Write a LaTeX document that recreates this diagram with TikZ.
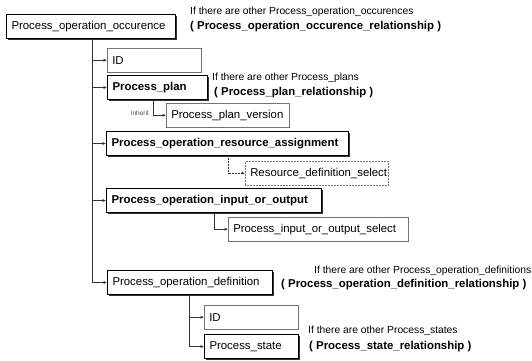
\documentclass[tikz,border=0pt]{standalone}
\usepackage{fontspec}
\setmainfont{Liberation Sans}
\usetikzlibrary{arrows.meta}
\usetikzlibrary{shadows}

\begin{document}
\begin{tikzpicture}[x=1pt, y=-1pt, >={Latex[length=3.5pt,width=3pt]},
  ent/.style={anchor=north west, minimum height=24pt, inner xsep=5pt, inner ysep=0pt, align=left, font=\fontsize{11.4}{13}\selectfont},
  strong/.style={ent, draw, line width=1pt, drop shadow={shadow xshift=1.2pt, shadow yshift=-1.2pt, fill=black!80, opacity=1}, fill=white},
  weak/.style={ent, draw=black!55, line width=0.5pt},
  note/.style={anchor=west, inner sep=0pt, font=\fontsize{10.3}{12}\selectfont},
  bnote/.style={note, font=\fontsize{11.4}{13}\selectfont\bfseries},
  link/.style={->, line width=0.5pt, black!80}]
\useasboundingbox (0,0) rectangle (532,360);
% entities
\node[strong, text width=159pt] (occ) at (6,14) {Process\_operation\_occurence};
\node[weak, text width=84pt] (id1) at (107,48) {ID};
\node[strong, text width=90pt] (plan) at (107,75) {\textbf{Process\_plan}};
\node[weak, text width=113pt] (ver) at (166,103) {Process\_plan\_version};
\node[strong, text width=232pt] (res) at (106,131) {\textbf{Process\_operation\_resource\_assignment}};
\node[weak, densely dotted, text width=133pt] (rsel) at (245,161) {Resource\_definition\_select};
\node[strong, text width=205pt] (io) at (106,188) {\textbf{Process\_operation\_input\_or\_output}};
\node[weak, text width=170pt] (iosel) at (228,217) {Process\_input\_or\_output\_select};
\node[strong, text width=155pt] (def) at (107,270) {Process\_operation\_definition};
\node[weak, text width=84pt] (id2) at (204,305) {ID};
\node[strong, text width=84pt] (state) at (204,334) {Process\_state};
% notes
\node[note] (n1) at (190,12) {If there are other Process\_operation\_occurences};
\node[bnote] (n1b) at (190,27) {( Process\_operation\_occurence\_relationship )};
\node[note] (n2) at (212,78) {If there are other Process\_plans};
\node[bnote] (n2b) at (214,93) {( Process\_plan\_relationship )};
\node[note] (n3) at (314,271) {If there are other Process\_operation\_definitions};
\node[bnote] (n3b) at (281,285) {( Process\_operation\_definition\_relationship )};
\node[note] (n4) at (308,331) {If there are other Process\_states};
\node[bnote] (n4b) at (309,347) {( Process\_state\_relationship )};
\node[anchor=east, inner sep=0pt, font=\fontsize{6.5}{7}\selectfont, black!70] (inh) at (149,113) {Inherit};
% connectors
\coordinate (trunk) at (92,0);
\draw[link] (trunk |- occ.south) |- (def.west);
\foreach \n in {id1, plan, res, io}
  \draw[link] (trunk |- \n.west) -- (\n.west);
\draw[link] ([xshift=46pt]plan.south west) |- (ver.west);
\draw[link, densely dotted] ([xshift=122pt]res.south west) |- (rsel.west);
\draw[link] ([xshift=108pt]io.south west) |- (iosel.west);
\draw[link] ([xshift=82pt]def.south west) |- (id2.west);
\draw[link] ([xshift=82pt]def.south west) |- (state.west);
\end{tikzpicture}
\end{document}
